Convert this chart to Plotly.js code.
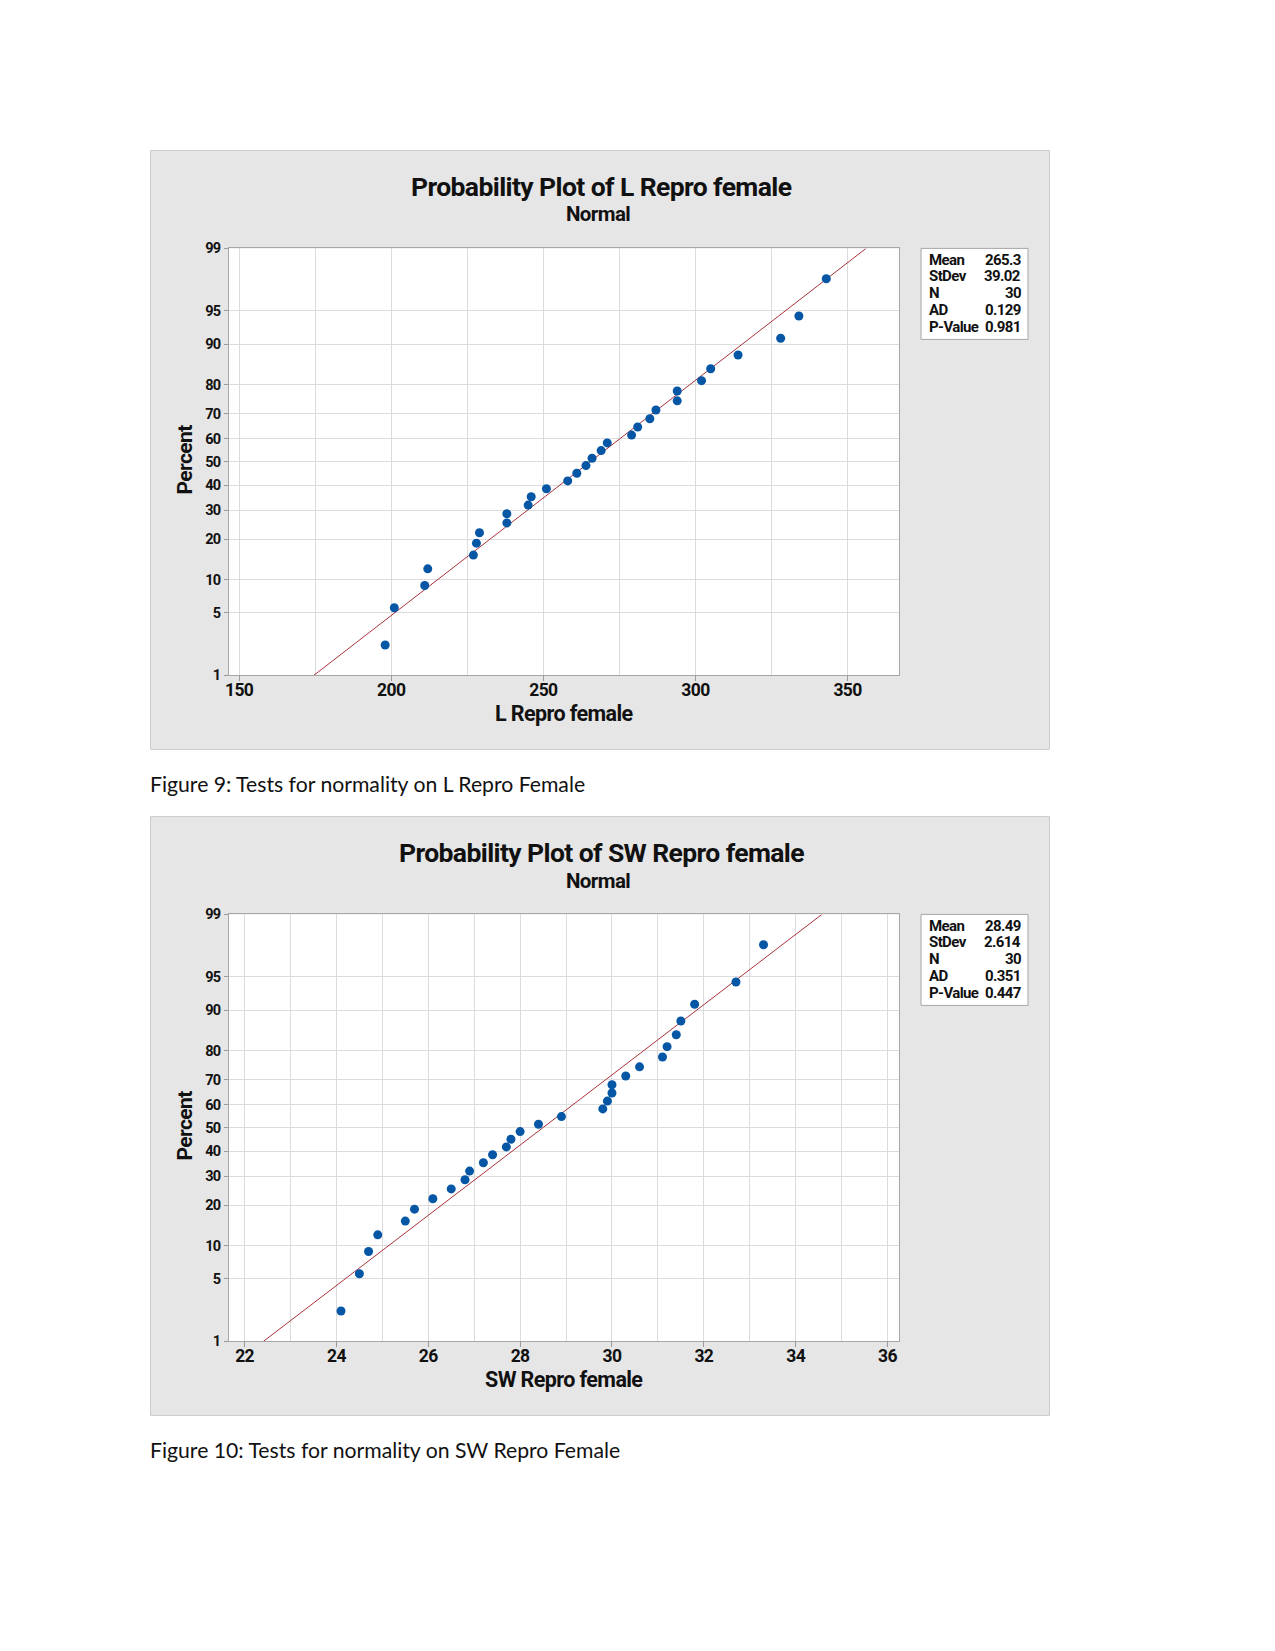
<!DOCTYPE html>
<html><head><meta charset="utf-8">
<script src="https://cdn.plot.ly/plotly-3.0.1.min.js"></script>
<style>
body{margin:0;background:#fff}
#chart{width:1275px;height:1651px}
text[style*="Roboto"]{letter-spacing:-0.6px}
</style>
</head><body><div id="chart"></div>
<script>
// ---- data ----
const pctRank = [2.3, 5.6, 8.9, 12.2, 15.5, 18.8, 22.0, 25.3, 28.6, 31.9, 35.2, 38.5, 41.8, 45.1, 48.4,
                 51.6, 54.9, 58.2, 61.5, 64.8, 68.1, 71.4, 74.7, 78.0, 81.2, 84.5, 87.8, 91.1, 94.4, 97.7];
const lRepro = [198, 201, 211, 212, 227, 228, 229, 238, 238, 245, 246, 251, 258, 261, 264,
                266, 269, 271, 279, 281, 285, 287, 294, 294, 302, 305, 314, 328, 334, 343];
const swRepro = [24.1, 24.5, 24.7, 24.9, 25.5, 25.7, 26.1, 26.5, 26.8, 26.9, 27.2, 27.4, 27.7, 27.8, 28.0,
                 28.4, 28.9, 29.8, 29.9, 30.0, 30.0, 30.3, 30.6, 31.1, 31.2, 31.4, 31.5, 31.8, 32.7, 33.3];
const statLabels = ['Mean', 'StDev', 'N', 'AD', 'P-Value'];
const lStats = ['265.3', '39.02', '30', '0.129', '0.981'];
const swStats = ['28.49', '2.614', '30', '0.351', '0.447'];
const pctTicks = [1, 5, 10, 20, 30, 40, 50, 60, 70, 80, 90, 95, 99];
const lXTicks = [150, 200, 250, 300, 350];
const lXMinor = [175, 225, 275, 325];
const swXTicks = [22, 24, 26, 28, 30, 32, 34, 36];
const swXMinor = [23, 25, 27, 29, 31, 33, 35];
const titles1 = ['Probability Plot of L Repro female', 'Normal', 'L Repro female', 'Percent'];
const titles2 = ['Probability Plot of SW Repro female', 'Normal', 'SW Repro female', 'Percent'];
const captions = ['Figure 9: Tests for normality on L Repro Female', 'Figure 10: Tests for normality on SW Repro Female'];

// ---- inverse normal CDF (probability axis) ----
function qnorm(p){
  const a=[-3.969683028665376e+01,2.209460984245205e+02,-2.759285104469687e+02,1.383577518672690e+02,-3.066479806614716e+01,2.506628277459239e+00];
  const b=[-5.447609879822406e+01,1.615858368580409e+02,-1.556989798598866e+02,6.680131188771972e+01,-1.328068155288572e+01];
  const c=[-7.784894002430293e-03,-3.223964580411365e-01,-2.400758277161838e+00,-2.549732539343734e+00,4.374664141464968e+00,2.938163982698783e+00];
  const d=[7.784695709041462e-03,3.224671290700398e-01,2.445134137142996e+00,3.754408661907416e+00];
  const pl=0.02425, ph=1-pl; let q,r;
  if(p<pl){q=Math.sqrt(-2*Math.log(p));return (((((c[0]*q+c[1])*q+c[2])*q+c[3])*q+c[4])*q+c[5])/((((d[0]*q+d[1])*q+d[2])*q+d[3])*q+1);}
  if(p<=ph){q=p-0.5;r=q*q;return (((((a[0]*r+a[1])*r+a[2])*r+a[3])*r+a[4])*r+a[5])*q/(((((b[0]*r+b[1])*r+b[2])*r+b[3])*r+b[4])*r+1);}
  q=Math.sqrt(-2*Math.log(1-p));return -(((((c[0]*q+c[1])*q+c[2])*q+c[3])*q+c[4])*q+c[5])/((((d[0]*q+d[1])*q+d[2])*q+d[3])*q+1);
}
const zLo = qnorm(pctTicks[0]/100), zHi = qnorm(pctTicks[pctTicks.length-1]/100);

// ---- layout helpers ----
const W = 1275, H = 1651;
const px = v => v / W, py = v => 1 - v / H;
const FONT = 'Roboto, "DejaVu Sans Condensed", sans-serif';
const OFF = 666; // vertical offset of second figure
const DOT = '#0656a6', FIT = '#a8323c', GRID = '#dcdcdc', BORDER = '#a6a6a6';

function pointTrace(xs, xa, ya){
  return {type:'scatter', mode:'markers', x: xs, y: pctRank.map(p => qnorm(p/100)),
    xaxis: xa, yaxis: ya, marker:{color: DOT, size: 9}, hoverinfo:'x+text',
    text: pctRank.map(p => p + '%')};
}
function fitTrace(stats, xa, ya){
  const m = parseFloat(stats[0]), s = parseFloat(stats[1]);
  return {type:'scatter', mode:'lines', x:[m + s*zLo, m + s*zHi], y:[zLo, zHi],
    xaxis: xa, yaxis: ya, line:{color: FIT, width: 1}, hoverinfo:'skip'};
}
function xAxis(dom, range, ticks, minor, anchor){
  return {domain: dom, range: range, anchor: anchor, tickmode:'array', tickvals: ticks,
    ticktext: ticks.map(String), showgrid:true, gridcolor: GRID, gridwidth:1,
    minor:{tickmode:'array', tickvals: minor, showgrid:true, gridcolor: GRID, ticks:''},
    ticks:'outside', ticklen:5, tickcolor:'#9a9a9a', ticklabelstandoff:-6, showline:true, mirror:true,
    linecolor: BORDER, linewidth:1, zeroline:false, automargin:false, fixedrange:true,
    tickfont:{family: FONT, size:17.5, weight:'bold', color:'#111'}};
}
function yAxis(dom, anchor){
  return {domain: dom, range:[zLo, zHi], anchor: anchor, tickmode:'array',
    tickvals: pctTicks.map(p => qnorm(p/100)), ticktext: pctTicks.map(String),
    showgrid:true, gridcolor: GRID, ticks:'outside', ticklen:4, tickcolor:'#9a9a9a',
    showline:true, mirror:true, linecolor: BORDER, linewidth:1, zeroline:false,
    automargin:false, fixedrange:true,
    tickfont:{family: FONT, size:14.5, weight:'bold', color:'#111'}};
}

const shapes = [], annotations = [];
function figureDecor(off, titles, stats, caption){
  shapes.push({type:'rect', xref:'paper', yref:'paper', layer:'below',
    x0: px(150.5), x1: px(1049.5), y0: py(150.5+off), y1: py(749.5+off),
    fillcolor:'#e6e6e6', line:{color:'#cdcdcd', width:1}});
  shapes.push({type:'rect', xref:'paper', yref:'paper', layer:'below',
    x0: px(228.5), x1: px(899), y0: py(248.4+off), y1: py(675.4+off),
    fillcolor:'#ffffff', line:{width:0}});
  shapes.push({type:'rect', xref:'paper', yref:'paper', layer:'above',
    x0: px(921), x1: px(1028), y0: py(248.4+off), y1: py(339.4+off),
    fillcolor:'#ffffff', line:{color: BORDER, width:1}});
  annotations.push({xref:'paper', yref:'paper', x: px(601), y: py(186.5+off), xanchor:'center', yanchor:'middle',
    text: titles[0], showarrow:false, font:{family: FONT, size:26.5, weight:'bold', color:'#111'}});
  annotations.push({xref:'paper', yref:'paper', x: px(597.5), y: py(214.5+off), xanchor:'center', yanchor:'middle',
    text: titles[1], showarrow:false, font:{family: FONT, size:20.5, weight:'bold', color:'#111'}});
  annotations.push({xref:'paper', yref:'paper', x: px(564), y: py(713.5+off), xanchor:'center', yanchor:'middle',
    text: titles[2], showarrow:false, font:{family: FONT, size:21.5, weight:'bold', color:'#111'}});
  annotations.push({xref:'paper', yref:'paper', x: px(184.5), y: py(460+off), xanchor:'center', yanchor:'middle',
    text: titles[3], textangle:-90, showarrow:false, font:{family: FONT, size:21, weight:'bold', color:'#111'}});
  statLabels.forEach((lab, i) => {
    const yy = py(259.5 + i*16.9 + off);
    annotations.push({xref:'paper', yref:'paper', x: px(927), y: yy, xanchor:'left', yanchor:'middle',
      text: lab, showarrow:false, font:{family: FONT, size:15, weight:'bold', color:'#111'}});
    annotations.push({xref:'paper', yref:'paper', x: px(1023), y: yy, xanchor:'right', yanchor:'middle',
      text: stats[i], showarrow:false, font:{family: FONT, size:15, weight:'bold', color:'#111'}});
  });
  annotations.push({xref:'paper', yref:'paper', x: px(148), y: py(784+off), xanchor:'left', yanchor:'middle',
    text: caption, showarrow:false, font:{family:'Lato, "Open Sans", sans-serif', size:21.2, color:'#111'}});
}
figureDecor(0, titles1, lStats, captions[0]);
figureDecor(OFF, titles2, swStats, captions[1]);

const data = [
  fitTrace(lStats, 'x', 'y'), pointTrace(lRepro, 'x', 'y'),
  fitTrace(swStats, 'x2', 'y2'), pointTrace(swRepro, 'x2', 'y2')
];
const layout = {
  width: W, height: H, margin:{l:0, r:0, t:0, b:0}, showlegend:false,
  paper_bgcolor:'#ffffff', plot_bgcolor:'rgba(0,0,0,0)',
  xaxis: xAxis([px(228.5), px(899)], [146.5, 366.9], lXTicks, lXMinor, 'y'),
  yaxis: yAxis([py(675.4), py(248.4)], 'x'),
  xaxis2: xAxis([px(228.5), px(899)], [21.65, 36.25], swXTicks, swXMinor, 'y2'),
  yaxis2: yAxis([py(675.4+OFF), py(248.4+OFF)], 'x2'),
  shapes: shapes, annotations: annotations
};
Plotly.newPlot('chart', data, layout, {displayModeBar:false, staticPlot:true});
</script></body></html>
